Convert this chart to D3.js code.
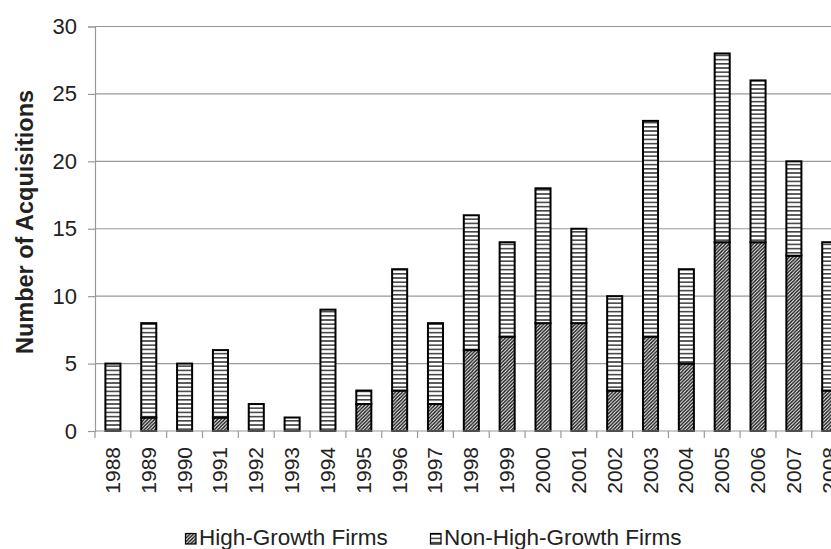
<!DOCTYPE html>
<html><head><meta charset="utf-8">
<script src="https://cdn.jsdelivr.net/npm/d3@7"></script>
<style>body{margin:0;background:#fff;overflow:hidden}svg{display:block}text{font-family:"Liberation Sans",Arial,sans-serif}</style>
</head><body>
<svg id="c" width="831" height="549"></svg>
<script>
const years = ["1988","1989","1990","1991","1992","1993","1994","1995","1996","1997","1998","1999","2000","2001","2002","2003","2004","2005","2006","2007","2008"];
const highGrowth = [0,1,0,1,0,0,0,2,3,2,6,7,8,8,3,7,5,14,14,13,3];
const nonHighGrowth = [5,7,5,5,2,1,9,1,9,6,10,7,10,7,7,16,7,14,12,7,11];
const yTicks = [0,5,10,15,20,25,30];
const seriesNames = ["High-Growth Firms","Non-High-Growth Firms"];

const svg = d3.select("#c");
const defs = svg.append("defs");
const ph = defs.append("pattern").attr("id","hatch").attr("patternUnits","userSpaceOnUse").attr("width",3.5).attr("height",3.5);
ph.append("rect").attr("width",3.5).attr("height",3.5).attr("fill","#fff");
ph.append("path").attr("d","M-1,1 l2,-2 M0,3.5 l3.5,-3.5 M2.5,4.5 l2,-2").attr("stroke","#1a1a1a").attr("stroke-width",1.4);
const ps = defs.append("pattern").attr("id","stripe").attr("patternUnits","userSpaceOnUse").attr("width",8).attr("height",4.2);
ps.append("rect").attr("width",8).attr("height",4.2).attr("fill","#fff");
ps.append("rect").attr("y",0).attr("width",8).attr("height",1.6).attr("fill","#444");

const x0 = 95, step = 35.84, n = years.length;
const x = d3.scaleBand().domain(years).range([x0, x0 + step*n]).paddingInner(0.58).paddingOuter(0.29);
const y = d3.scaleLinear().domain([0,30]).range([431,26.5]);

// gridlines
svg.append("g").selectAll("line").data(yTicks.filter(d=>d>0)).join("line")
  .attr("x1",x0).attr("x2",x0+step*n).attr("y1",d=>y(d)).attr("y2",d=>y(d))
  .attr("stroke","#999").attr("stroke-width",1.2);

// y axis
const ya = svg.append("g").attr("transform",`translate(${x0},0)`)
  .call(d3.axisLeft(y).tickValues(yTicks).tickSize(7).tickPadding(11));
ya.select(".domain").attr("stroke","#999").attr("stroke-width",1.2);
ya.selectAll(".tick line").attr("stroke","#999").attr("stroke-width",1.2);
ya.selectAll("text").attr("font-size",22).attr("fill","#222").style("font-family","Liberation Sans, Arial, sans-serif");

// stacked data
const data = years.map((yr,i)=>({year:yr, high:highGrowth[i], non:nonHighGrowth[i]}));
const stack = d3.stack().keys(["high","non"])(data);
const fills = {high:"url(#hatch)", non:"url(#stripe)"};
svg.append("g").selectAll("g").data(stack).join("g")
  .attr("fill",d=>fills[d.key])
  .selectAll("rect").data(d=>d.filter(s=>s[1]-s[0]>0)).join("rect")
  .attr("x",d=>x(d.data.year)).attr("width",x.bandwidth())
  .attr("y",d=>y(d[1])).attr("height",d=>y(d[0])-y(d[1]))
  .attr("stroke","#000").attr("stroke-width",2);

// x axis
const xa = svg.append("g").attr("transform",`translate(0,${y(0)})`);
xa.append("line").attr("x1",x0).attr("x2",x0+step*n).attr("stroke","#999").attr("stroke-width",1.2);
xa.selectAll(".tk").data(d3.range(n+1)).join("line").attr("class","tk")
  .attr("x1",i=>x0+i*step).attr("x2",i=>x0+i*step).attr("y1",0).attr("y2",7)
  .attr("stroke","#999").attr("stroke-width",1.2);
xa.selectAll("text").data(years).join("text")
  .attr("transform",d=>`translate(${x(d)+x.bandwidth()/2+7},16) rotate(-90)`)
  .attr("text-anchor","end").attr("font-size",21).attr("fill","#222").text(d=>d);

// y title
svg.append("text").attr("transform","translate(33,222) rotate(-90)")
  .attr("text-anchor","middle").attr("font-size",23.5).attr("font-weight","bold").attr("fill","#222")
  .text("Number of Acquisitions");

// legend
const leg = [{name:seriesNames[0],fill:"url(#hatch)",x:185},{name:seriesNames[1],fill:"url(#stripe)",x:430}];
const lg = svg.append("g").selectAll("g").data(leg).join("g").attr("transform",d=>`translate(${d.x},0)`);
lg.append("rect").attr("x",0.5).attr("y",533.5).attr("width",10.5).attr("height",10.5).attr("fill",d=>d.fill).attr("stroke","#000").attr("stroke-width",1.2);
lg.append("text").attr("x",14).attr("y",545).attr("font-size",22.5).attr("fill","#222").text(d=>d.name);
</script>
</body></html>
